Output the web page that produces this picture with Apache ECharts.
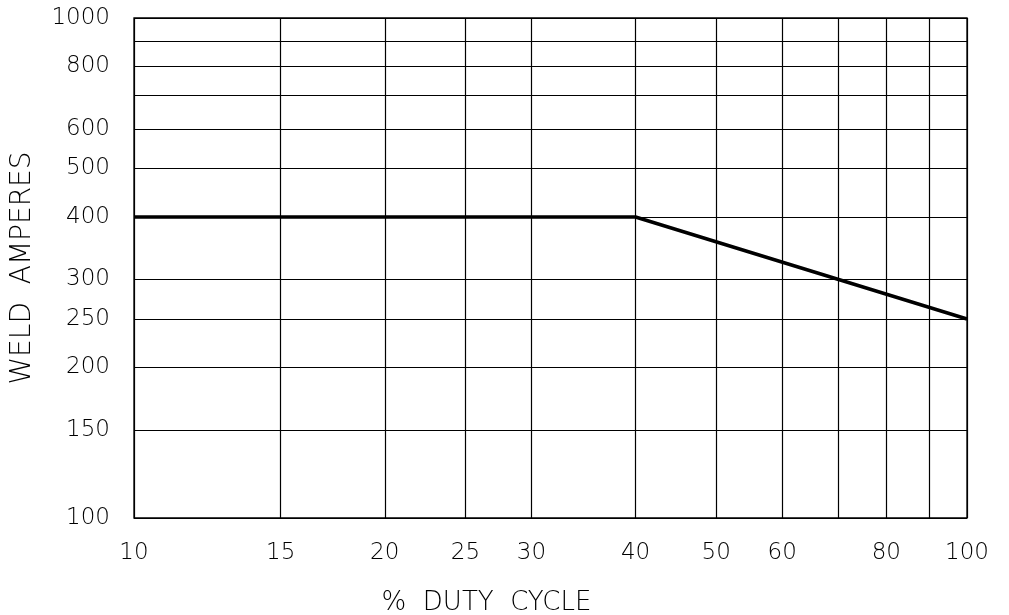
<!DOCTYPE html>
<html><head><meta charset="utf-8">
<script src="https://cdn.jsdelivr.net/npm/echarts@6/dist/echarts.min.js"></script>
<style>html,body{margin:0;padding:0;background:#fff}#c{width:1009px;height:615px}</style>
</head><body><div id="c"></div>
<script>
const dutyCycle = [10, 40, 100];
const weldAmperes = [400, 400, 250];
const xGridValues = [10, 15, 20, 25, 30, 40, 50, 60, 70, 80, 90, 100];
const xLabelValues = [10, 15, 20, 25, 30, 40, 50, 60, 80, 100];
const yGridValues = [100, 150, 200, 250, 300, 400, 500, 600, 700, 800, 900, 1000];
const yLabelValues = [100, 150, 200, 250, 300, 400, 500, 600, 800, 1000];

const font = '"DejaVu Sans", sans-serif';
const chart = echarts.init(document.getElementById('c'));
chart.setOption({
  animation: false,
  backgroundColor: '#fff',
  grid: {left: 134, right: 42, top: 18, bottom: 97, show: true, borderColor: '#000', borderWidth: 1.3,
         containLabel: false, outerBoundsMode: 'none'},
  xAxis: {
    type: 'log', logBase: 10, min: 10, max: 100,
    name: '%  DUTY  CYCLE', nameLocation: 'middle', nameGap: 72,
    nameTextStyle: {fontFamily: font, fontSize: 26, color: '#000', fontWeight: 200, padding: [0, 128, 0, 0]},
    axisLine: {show: false},
    axisTick: {show: false, customValues: xGridValues},
    axisLabel: {customValues: xLabelValues, margin: 24, fontFamily: font, fontSize: 23, color: '#000', fontWeight: 200,
                formatter: v => String(v)},
    splitLine: {show: true, lineStyle: {color: '#000', width: 1.2}}
  },
  yAxis: {
    type: 'log', logBase: 10, min: 100, max: 1000,
    name: 'WELD  AMPERES', nameLocation: 'middle', nameGap: 97, nameRotate: 90,
    nameTextStyle: {fontFamily: font, fontSize: 28, color: '#000', fontWeight: 200},
    axisLine: {show: false},
    axisTick: {show: false, customValues: yGridValues},
    axisLabel: {customValues: yLabelValues, margin: 24, fontFamily: font, fontSize: 23, color: '#000', fontWeight: 200,
                formatter: v => String(v)},
    splitLine: {show: true, lineStyle: {color: '#000', width: 1.2}}
  },
  series: [{
    type: 'line',
    data: dutyCycle.map((x, i) => [x, weldAmperes[i]]),
    showSymbol: false,
    lineStyle: {color: '#000', width: 3.5},
    z: 5
  }]
});
</script></body></html>
